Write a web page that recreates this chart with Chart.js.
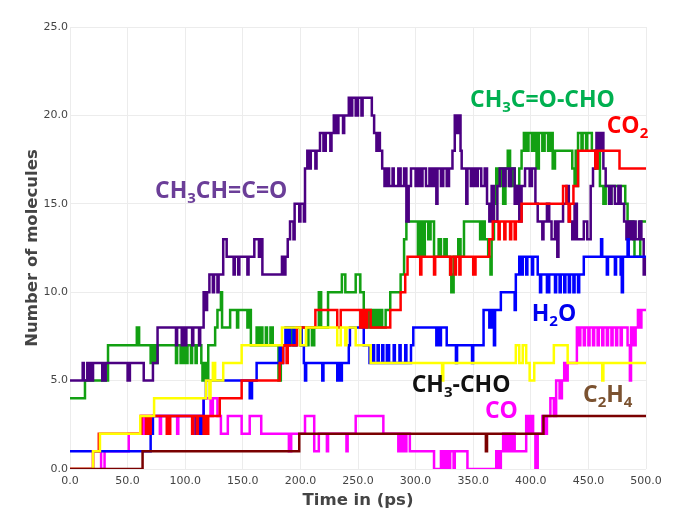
<!DOCTYPE html>
<html>
<head>
<meta charset="utf-8">
<script src="https://cdn.jsdelivr.net/npm/chart.js@4"></script>
<style>
  html, body { margin: 0; padding: 0; background: #fff; }
  canvas { display: block; }
</style>
</head>
<body>
<canvas id="chart-molecules" width="681" height="531"></canvas>
<script>
// Number of molecules vs time — each pair is [time in ps, count from that time on]

const ketene = [ // CH3CH=C=O
  [0,5],[11,6],[12,5],[15,6],[16,5],[17,6],[18,5],[20,6],[28,5],[29,6],[30,5],[31,6],[50,5],[52,6],[64,5],[72,6],
  [76,8],[92,7],[93,8],[97,7],[98,8],[100,7],[101,8],[106,7],[107,8],[112,7],[113,8],[116,10],[118,9],[119,10],
  [121,11],[124,10],[125,11],[128,10],[129,11],[133,13],[136,12],[142,11],[143,12],[146,11],[147,12],[154,11],
  [155,12],[160,13],[164,12],[165,13],[167,11],[184,12],[186,11],[187,12],[189,13],[191,14],[194,13],[195,15],
  [199,14],[200,15],[203,14],[204,17],[206,18],[208,17],[209,18],[213,17],[214,18],[217,19],[220,18],[222,19],
  [226,18],[227,19],[229,20],[231,19],[233,20],[237,19],[238,20],[242,21],[244,20],[245,21],[248,20],[250,21],
  [253,20],[254,21],[262,20],[264,19],[266,18],[268,19],[269,18],[271,17],[273,16],[275,17],[277,16],[280,17],
  [281,16],[285,17],[287,16],[290,17],[292,14],[294,16],[296,17],[300,16],[302,17],[304,16],[306,17],[309,16],
  [312,17],[314,16],[316,17],[318,15],[319,17],[322,16],[324,17],[327,16],[329,17],[332,18],[334,20],[336,19],
  [337,20],[339,18],[340,17],[344,15],[345,17],[348,16],[350,17],[352,16],[354,17],[357,16],[360,17],[362,15],
  [364,14],[366,16],[368,14],[371,16],[373,17],[376,16],[378,17],[381,16],[383,17],[386,15],[388,16],[390,14],
  [392,16],[395,17],[399,16],[401,17],[404,15],[406,14],[410,13],[411,14],[414,15],[416,14],[418,13],[421,14],
  [423,12],[424,14],[428,15],[431,16],[433,14],[436,13],[438,15],[440,13],[446,14],[449,13],[452,16],[454,17],
  [456,18],[457,19],[459,18],[461,19],[463,17],[465,16],[468,15],[470,16],[473,15],[476,16],[478,15],[481,14],
  [483,13],[485,14],[487,13],[489,14],[491,13],[494,14],[496,13],[498,11],[500,12]
];

const methylglyoxal = [ // CH3C=O-CHO
  [0,4],[13,5],[33,7],[58,8],[60,7],[70,6],[71,7],[72,6],[73,7],[75,6],[76,7],[92,6],[93,7],[96,6],[97,7],[99,6],
  [100,7],[101,6],[102,7],[105,6],[106,7],[109,6],[110,7],[114,6],[115,5],[117,6],[118,5],[120,7],[126,8],[128,9],
  [131,10],[132,8],[139,9],[145,8],[146,9],[154,8],[155,9],[157,7],[162,8],[164,7],[166,8],[167,7],[170,8],[171,7],
  [174,8],[176,7],[181,5],[183,7],[188,8],[190,7],[192,8],[194,7],[197,8],[200,7],[201,8],[205,7],[207,8],[210,7],
  [212,8],[216,10],[218,8],[224,10],[236,11],[239,10],[248,11],[252,10],[255,8],[257,9],[259,8],[261,9],[263,8],
  [265,9],[267,8],[269,9],[271,8],[274,9],[278,10],[287,11],[290,13],[292,14],[302,12],[304,14],[306,12],[308,14],
  [311,13],[313,14],[316,12],[320,13],[322,12],[325,13],[327,12],[330,11],[331,10],[333,12],[337,13],[339,12],
  [342,14],[356,13],[358,14],[360,13],[363,12],[365,11],[366,13],[368,15],[370,17],[372,16],[374,17],[376,15],
  [378,17],[380,18],[382,16],[384,17],[386,16],[388,15],[390,17],[392,18],[394,19],[396,18],[398,19],[401,18],
  [403,19],[405,17],[407,19],[410,18],[412,19],[415,18],[417,19],[419,17],[421,18],[436,17],[438,16],[439,18],
  [440,16],[441,19],[444,18],[445,19],[448,18],[449,19],[453,18],[456,17],[458,18],[460,16],[463,15],[465,16],
  [468,15],[470,16],[482,15],[484,14],[489,13],[490,12],[495,14],[500,14]
];

const co2 = [
  [0,0],[20,1],[25,2],[62,3],[66,2],[67,3],[69,2],[70,3],[84,2],[85,3],[86,2],[87,3],[106,2],[107,3],[110,2],
  [111,3],[116,2],[117,3],[119,2],[120,3],[130,4],[149,5],[182,6],[185,7],[188,6],[189,7],[197,8],[213,9],[232,8],
  [235,9],[252,8],[254,9],[256,8],[258,9],[261,8],[278,9],[287,10],[291,11],[293,12],[304,11],[305,12],[316,11],
  [317,12],[330,11],[331,12],[334,11],[335,12],[338,11],[339,12],[350,11],[352,12],[364,13],[367,14],[372,13],
  [373,14],[377,13],[378,14],[382,13],[383,14],[386,13],[387,14],[392,15],[428,16],[431,15],[433,14],[434,15],
  [437,16],[441,18],[456,17],[458,18],[477,17],[500,17]
];

const water = [ // H2O
  [0,1],[70,2],[72,3],[109,2],[110,3],[112,2],[113,3],[114,2],[115,3],[116,4],[118,5],[156,4],[158,5],[162,6],
  [182,7],[184,6],[185,7],[187,8],[189,7],[191,8],[194,7],[196,8],[201,7],[203,6],[204,5],[205,6],[219,5],[220,6],
  [232,5],[233,6],[235,5],[236,6],[242,7],[243,8],[255,7],[260,6],[263,7],[264,6],[267,7],[268,6],[271,7],[272,6],
  [275,7],[277,6],[281,7],[282,6],[286,7],[287,6],[291,7],[292,6],[296,7],[298,8],[318,7],[319,8],[320,7],[322,8],
  [327,7],[335,6],[336,7],[349,6],[350,7],[359,9],[364,8],[366,9],[368,7],[369,9],[374,10],[386,9],[387,11],
  [390,12],[392,11],[393,12],[396,11],[397,12],[401,11],[402,12],[406,11],[408,10],[409,11],[414,10],[416,11],
  [421,10],[422,11],[425,10],[426,11],[429,10],[430,11],[433,10],[434,11],[437,10],[438,11],[441,10],[442,11],
  [446,12],[461,13],[462,12],[466,11],[467,12],[473,11],[474,12],[478,11],[479,10],[480,12],[484,13],[485,12],
  [500,12]
];

const acetaldehyde = [ // CH3-CHO
  [0,0],[20,1],[26,2],[61,3],[73,4],[118,5],[121,4],[122,5],[124,6],[126,5],[133,6],[149,7],[184,8],[200,7],
  [205,8],[232,7],[235,8],[239,7],[240,8],[248,7],[261,6],[323,5],[324,6],[387,7],[390,6],[393,7],[396,6],
  [399,5],[403,6],[420,7],[432,6],[462,5],[463,6],[500,6]
];

const co = [
  [0,0],[20,1],[27,0],[30,1],[51,2],[61,3],[63,2],[65,3],[67,2],[68,3],[70,2],[71,3],[78,2],[79,3],[85,2],[86,3],
  [93,2],[94,3],[109,2],[110,3],[111,2],[112,3],[113,2],[115,3],[116,4],[122,3],[124,4],[128,3],[131,2],[137,3],
  [149,2],[156,3],[166,2],[190,1],[192,2],[204,3],[212,1],[216,2],[223,1],[224,2],[240,1],[241,2],[248,3],[272,2],
  [285,1],[287,2],[289,1],[290,2],[291,1],[292,2],[295,1],[316,0],[322,1],[324,0],[326,1],[328,0],[330,1],[333,0],
  [334,1],[345,0],[370,1],[372,0],[374,1],[376,2],[378,1],[380,2],[382,1],[384,2],[386,1],[396,3],[398,2],[400,3],
  [402,2],[404,0],[406,2],[410,3],[412,2],[414,3],[417,4],[420,3],[422,5],[425,4],[427,5],[429,6],[431,5],[432,6],
  [440,8],[442,7],[443,8],[446,7],[447,8],[450,7],[451,8],[454,7],[455,8],[458,7],[459,8],[462,7],[463,8],[466,7],
  [467,8],[470,7],[471,8],[474,7],[475,8],[478,7],[479,8],[484,7],[486,5],[487,8],[489,7],[491,8],[493,9],[495,8],
  [496,9],[500,9]
];

const ethylene = [ // C2H4
  [0,0],[63,1],[199,2],[361,1],[362,2],[411,3],[500,3]
];

const xTicks = [0, 50, 100, 150, 200, 250, 300, 350, 400, 450, 500];
const yTicks = [0, 5, 10, 15, 20, 25];

// Étiquettes dans le graphique: [texte, indice] + ancrage (t, n) au pied de la ligne de base
const molLabels = [
  { parts: [['CH',0],['3',1],['CH=C=O',0]],  color: '#6b3e98', t: 73.8,  n: 15.3 },
  { parts: [['CH',0],['3',1],['C=O-CHO',0]], color: '#00b050', t: 347.2, n: 20.5 },
  { parts: [['CO',0],['2',1]],               color: '#ff0000', t: 465.9, n: 19.0 },
  { parts: [['H',0],['2',1],['O',0]],        color: '#0000ee', t: 400.8, n: 8.35 },
  { parts: [['CH',0],['3',1],['-CHO',0]],    color: '#111111', t: 296.6, n: 4.37 },
  { parts: [['CO',0]],                       color: '#ff00ff', t: 360.2, n: 2.87 },
  { parts: [['C',0],['2',1],['H',0],['4',1]],color: '#7b5230', t: 445.3, n: 3.79 },
];

const LABEL_FONT = "bold 23px 'Open Sans', sans-serif";
const SUB_FONT   = "bold 15px 'Open Sans', sans-serif";

const labelPlugin = {
  id: 'molLabels',
  afterDatasetsDraw(chart) {
    const { ctx, scales } = chart;
    ctx.save();
    ctx.textBaseline = 'alphabetic';
    ctx.textAlign = 'left';
    molLabels.forEach(lab => {
      let x = scales.x.getPixelForValue(lab.t);
      const y = scales.y.getPixelForValue(lab.n);
      ctx.fillStyle = lab.color;
      lab.parts.forEach(([txt, sub]) => {
        ctx.font = sub ? SUB_FONT : LABEL_FONT;
        ctx.fillText(txt, x, sub ? y + 5 : y);
        x += ctx.measureText(txt).width;
      });
    });
    ctx.restore();
  }
};

const toPoints = arr => arr.map(([t, n]) => ({ x: t, y: n }));

function line(label, arr, color) {
  return {
    label,
    data: toPoints(arr),
    borderColor: color,
    backgroundColor: color,
    borderWidth: 2.5,
    stepped: true,
    pointRadius: 0,
    fill: false,
  };
}

// l'index 0 es dibuixa a sobre
const datasets = [
  line('C2H4', ethylene, '#7a0000'),
  line('CH3-CHO', acetaldehyde, '#ffff00'),
  line('CO2', co2, '#ff0000'),
  line('H2O', water, '#0000ff'),
  line('CO', co, '#ff00ff'),
  line('CH3CH=C=O', ketene, '#4b0082'),
  line('CH3C=O-CHO', methylglyoxal, '#12a012'),
];

const GRID = '#ececec';
const TICK_FONT = { family: "'DejaVu Sans', sans-serif", size: 11 };
const TITLE_FONT = { family: "'DejaVu Sans', sans-serif", size: 16.5, weight: 'bold' };

new Chart(document.getElementById('chart-molecules'), {
  type: 'line',
  data: { datasets },
  options: {
    responsive: false,
    animation: false,
    layout: { padding: { top: 27, right: 35, left: 0, bottom: 0 } },
    plugins: { legend: { display: false }, tooltip: { enabled: false } },
    scales: {
      x: {
        type: 'linear',
        min: 0, max: 500,
        afterBuildTicks: s => { s.ticks = xTicks.map(v => ({ value: v })); },
        afterFit: s => { s.height = 62; },
        grid: { color: GRID, drawTicks: false },
        border: { display: false },
        ticks: { color: '#444', font: TICK_FONT, padding: 6, maxRotation: 0, autoSkip: false,
                 callback: v => Number(v).toFixed(1) },
        title: { display: true, text: 'Time in (ps)', color: '#444', font: TITLE_FONT,
                 padding: { top: 0, bottom: 20 } },
      },
      y: {
        type: 'linear',
        min: 0, max: 25,
        afterBuildTicks: s => { s.ticks = yTicks.map(v => ({ value: v })); },
        afterFit: s => { s.width = 70; },
        grid: { color: GRID, drawTicks: false },
        border: { display: false },
        ticks: { color: '#444', font: TICK_FONT, padding: 2, callback: v => Number(v).toFixed(1) },
        title: { display: true, text: 'Number of molecules', color: '#444', font: TITLE_FONT,
                 padding: { top: 23, bottom: 0 } },
      },
    },
  },
  plugins: [labelPlugin],
});
</script>
</body>
</html>
